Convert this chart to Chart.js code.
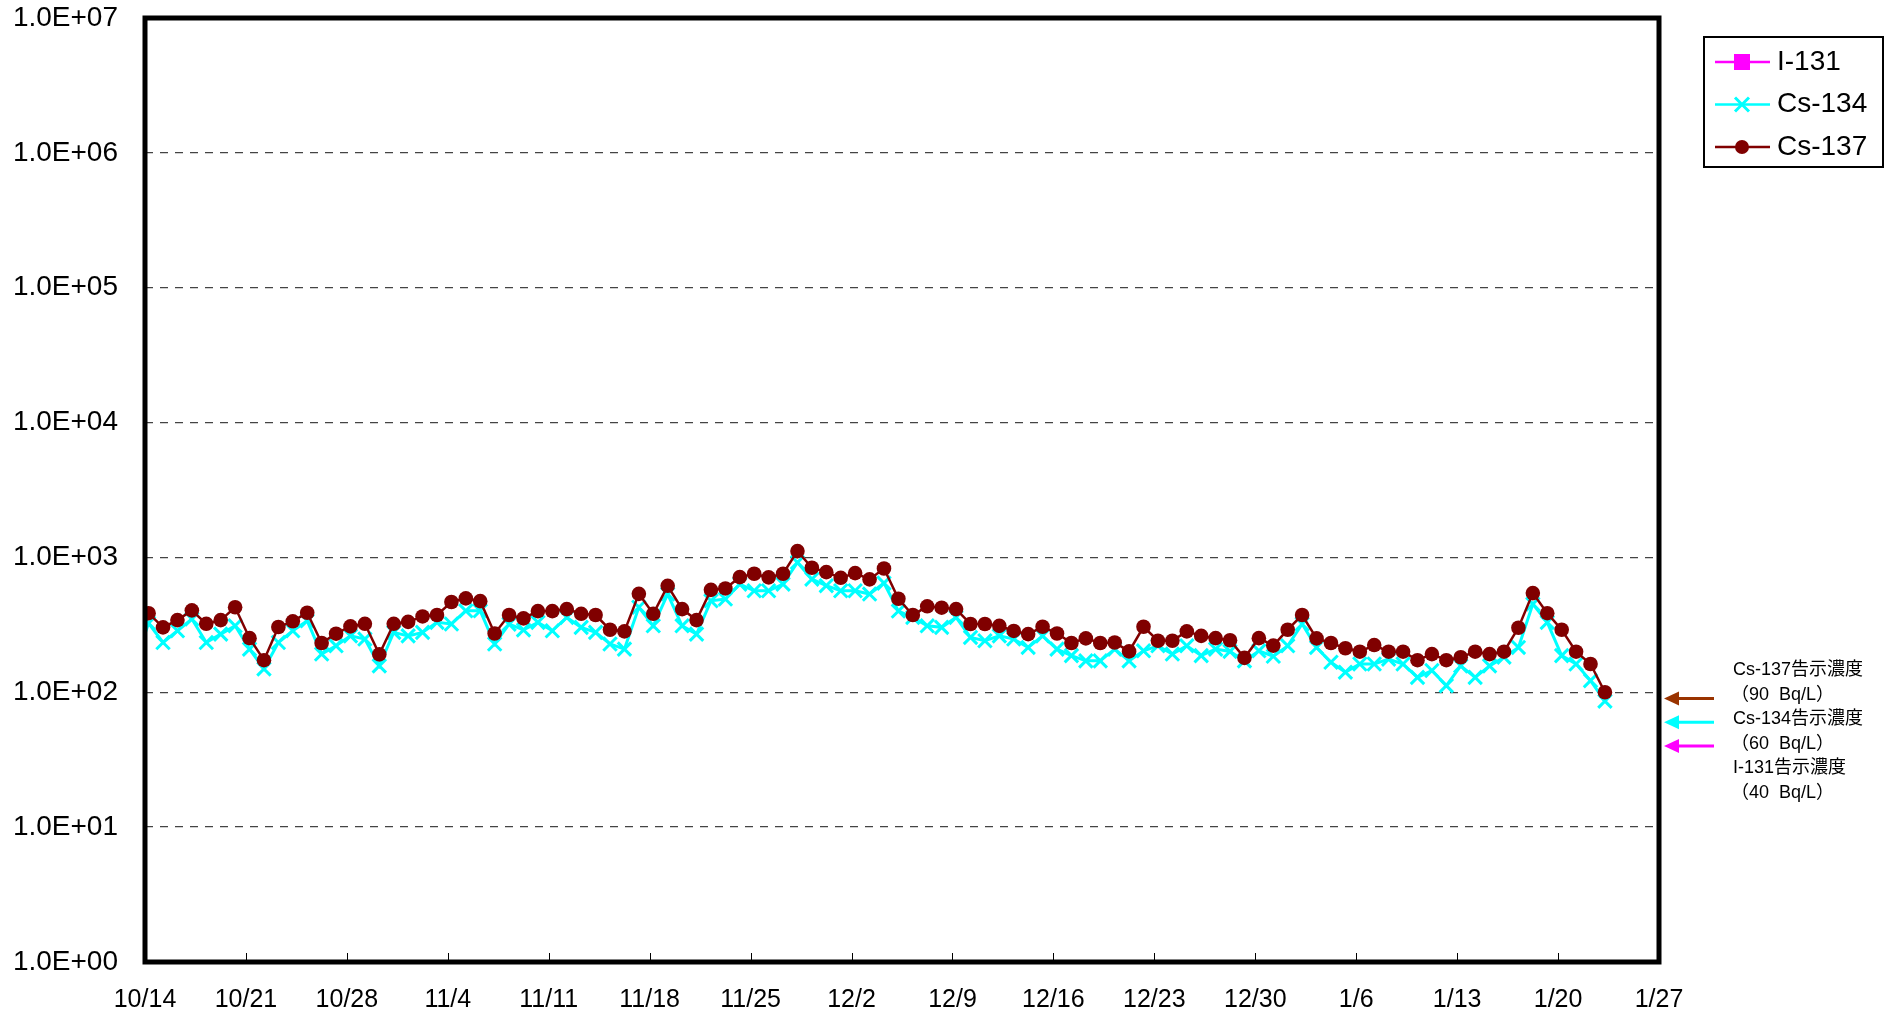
<!DOCTYPE html>
<html>
<head>
<meta charset="utf-8">
<script src="https://cdn.jsdelivr.net/npm/chart.js@4.4.0/dist/chart.umd.min.js"></script>
<style>
  body { margin: 0; background: #fff; }
  canvas { display: block; }
</style>
</head>
<body>
<canvas id="mycanvas" width="1895" height="1018"></canvas>
<script>
// sampling dates (10/13/2011 .. 1/23/2012), one per day
var dates = [
  '2011-10-13','2011-10-14','2011-10-15','2011-10-16','2011-10-17','2011-10-18','2011-10-19','2011-10-20','2011-10-21',
  '2011-10-22','2011-10-23','2011-10-24','2011-10-25','2011-10-26','2011-10-27','2011-10-28','2011-10-29','2011-10-30','2011-10-31',
  '2011-11-01','2011-11-02','2011-11-03','2011-11-04','2011-11-05','2011-11-06','2011-11-07','2011-11-08','2011-11-09','2011-11-10',
  '2011-11-11','2011-11-12','2011-11-13','2011-11-14','2011-11-15','2011-11-16','2011-11-17','2011-11-18','2011-11-19','2011-11-20',
  '2011-11-21','2011-11-22','2011-11-23','2011-11-24','2011-11-25','2011-11-26','2011-11-27','2011-11-28','2011-11-29','2011-11-30',
  '2011-12-01','2011-12-02','2011-12-03','2011-12-04','2011-12-05','2011-12-06','2011-12-07','2011-12-08','2011-12-09','2011-12-10',
  '2011-12-11','2011-12-12','2011-12-13','2011-12-14','2011-12-15','2011-12-16','2011-12-17','2011-12-18','2011-12-19','2011-12-20',
  '2011-12-21','2011-12-22','2011-12-23','2011-12-24','2011-12-25','2011-12-26','2011-12-27','2011-12-28','2011-12-29','2011-12-30',
  '2011-12-31','2012-01-01','2012-01-02','2012-01-03','2012-01-04','2012-01-05','2012-01-06','2012-01-07','2012-01-08','2012-01-09',
  '2012-01-10','2012-01-11','2012-01-12','2012-01-13','2012-01-14','2012-01-15','2012-01-16','2012-01-17','2012-01-18','2012-01-19',
  '2012-01-20','2012-01-21','2012-01-22','2012-01-23'
];

var cs137 = [
  190, 386, 303, 343, 405, 322, 343, 427, 252, 173,
  305, 336, 389, 232, 272, 308, 322, 191, 322, 333,
  365, 374, 467, 497, 474, 273, 374, 353, 400, 400,
  414, 382, 374, 291, 283, 537, 382, 616, 414, 343,
  575, 589, 714, 757, 711, 757, 1114, 838, 778, 706,
  765, 687, 828, 494, 374, 434, 424, 414, 321, 321,
  311, 285, 270, 306, 273, 232, 251, 232, 234, 201,
  306, 241, 241, 283, 262, 252, 243, 180, 252, 222,
  291, 374, 251, 232, 212, 200, 224, 200, 200, 173,
  192, 173, 182, 200, 192, 200, 301, 544, 386, 291,
  200, 162, 100
];

var cs134 = [
  160, 325, 234, 286, 349, 234, 270, 311, 209, 149,
  234, 286, 339, 192, 221, 262, 248, 157, 278, 262,
  278, 330, 321, 402, 402, 228, 320, 290, 330, 286,
  359, 303, 278, 228, 209, 427, 311, 535, 311, 270,
  477, 491, 634, 566, 566, 634, 918, 690, 617, 566,
  566, 535, 645, 400, 359, 311, 303, 359, 255, 241,
  262, 248, 215, 262, 209, 187, 171, 171, 209, 171,
  203, 221, 192, 221, 187, 209, 201, 171, 203, 185,
  221, 321, 215, 167, 141, 162, 162, 176, 162, 129,
  145, 112, 157, 129, 157, 182, 215, 451, 330, 187,
  162, 122, 86
];

// I-131 not detected in this period
var i131 = [];

var xTickLabels = ['10/14','10/21','10/28','11/4','11/11','11/18','11/25','12/2','12/9','12/16','12/23','12/30','1/6','1/13','1/20','1/27'];
var yTicks = [1, 10, 100, 1000, 10000, 100000, 1000000, 10000000];
var yTickLabels = ['1.0E+00','1.0E+01','1.0E+02','1.0E+03','1.0E+04','1.0E+05','1.0E+06','1.0E+07'];

// notice concentrations (Bq/L)
var noticeNames = ['Cs-137', 'Cs-134', 'I-131'];
var noticeValues = [90, 60, 40];
var noticeColors = ['#993300', '#00ffff', '#ff00ff'];

var start = new Date('2011-10-14T00:00:00Z').getTime();
function dayOf(s) {
  // samples are taken in the morning, about 6h after midnight
  return (new Date(s + 'T00:00:00Z').getTime() - start) / 86400000 + 0.25;
}
function pts(vals) {
  var out = [];
  for (var i = 0; i < vals.length; i++) out.push({ x: dayOf(dates[i]), y: vals[i] });
  return out;
}

var font = "'Liberation Sans', Arial, 'Noto Sans CJK JP', sans-serif";

/* frame, x tick marks, notice arrows and legend */
var decor = {
  id: 'decor',
  afterDraw: function(chart) {
    var ctx = chart.ctx, a = chart.chartArea;
    var xs = chart.scales.x, ys = chart.scales.y;
    ctx.save();
    ctx.setLineDash([]);

    // tick marks pointing into the plot
    ctx.strokeStyle = '#000';
    ctx.lineWidth = 1;
    for (var t = 1; t < xTickLabels.length - 1; t++) {
      var px = Math.round(xs.getPixelForValue(t * 7)) + 0.5;
      ctx.beginPath();
      ctx.moveTo(px, a.bottom);
      ctx.lineTo(px, a.bottom - 9);
      ctx.stroke();
    }

    // thick frame
    ctx.lineWidth = 5;
    ctx.strokeRect(a.left, a.top, a.right - a.left, a.bottom - a.top);

    // notice level arrows
    for (var i = 0; i < noticeValues.length; i++) {
      var y = ys.getPixelForValue(noticeValues[i]);
      var tip = a.right + 5;
      ctx.strokeStyle = noticeColors[i];
      ctx.fillStyle = noticeColors[i];
      ctx.lineWidth = 3;
      ctx.beginPath();
      ctx.moveTo(tip + 10, y);
      ctx.lineTo(tip + 50, y);
      ctx.stroke();
      ctx.beginPath();
      ctx.moveTo(tip, y);
      ctx.lineTo(tip + 15, y - 7);
      ctx.lineTo(tip + 15, y + 7);
      ctx.closePath();
      ctx.fill();
    }

    // notice texts
    var y90 = ys.getPixelForValue(noticeValues[0]);
    ctx.fillStyle = '#000';
    ctx.font = '18px ' + font;
    ctx.textBaseline = 'middle';
    ctx.textAlign = 'left';
    for (var j = 0; j < noticeNames.length; j++) {
      var ty = y90 - 28 + j * 49;
      ctx.fillText(noticeNames[j] + '告示濃度', a.right + 74, ty);
      ctx.fillText('（' + noticeValues[j] + '  Bq/L）', a.right + 72, ty + 25);
    }

    // legend box
    var lx = a.right + 45, ly = 37;
    ctx.strokeStyle = '#000';
    ctx.lineWidth = 2;
    ctx.strokeRect(lx, ly, 179, 130);
    var rows = [
      { name: 'I-131', color: '#ff00ff', style: 'square' },
      { name: 'Cs-134', color: '#00ffff', style: 'x' },
      { name: 'Cs-137', color: '#800000', style: 'circle' }
    ];
    ctx.font = '28px ' + font;
    for (var k = 0; k < rows.length; k++) {
      var ry = 62 + k * 42.5;
      var r = rows[k];
      ctx.strokeStyle = r.color;
      ctx.fillStyle = r.color;
      ctx.lineWidth = 2.5;
      ctx.beginPath();
      ctx.moveTo(lx + 11, ry);
      ctx.lineTo(lx + 66, ry);
      ctx.stroke();
      var cx = lx + 38;
      if (r.style === 'square') {
        ctx.fillRect(cx - 8, ry - 8, 16, 16);
      } else if (r.style === 'x') {
        ctx.lineWidth = 3;
        ctx.beginPath();
        ctx.moveTo(cx - 7, ry - 7); ctx.lineTo(cx + 7, ry + 7);
        ctx.moveTo(cx + 7, ry - 7); ctx.lineTo(cx - 7, ry + 7);
        ctx.stroke();
      } else {
        ctx.beginPath();
        ctx.arc(cx, ry, 7, 0, Math.PI * 2);
        ctx.fill();
      }
      ctx.fillStyle = '#000';
      ctx.fillText(r.name, lx + 73, ry);
    }
    ctx.restore();
  }
};

var ctx = document.getElementById('mycanvas');

var lineChart = new Chart(ctx, {
  type: 'line',
  data: {
    datasets: [
      {
        label: 'I-131',
        data: pts(i131),
        borderColor: '#ff00ff',
        backgroundColor: '#ff00ff',
        pointStyle: 'rect',
        pointRadius: 7,
        order: 2
      },
      {
        label: 'Cs-134',
        data: pts(cs134),
        borderColor: '#00ffff',
        backgroundColor: '#00ffff',
        borderWidth: 3,
        pointStyle: 'crossRot',
        pointRadius: 9.5,
        pointBorderWidth: 3,
        order: 1
      },
      {
        label: 'Cs-137',
        data: pts(cs137),
        borderColor: '#800000',
        backgroundColor: '#800000',
        borderWidth: 2.5,
        pointStyle: 'circle',
        pointRadius: 7.3,
        pointBorderWidth: 0,
        order: 0
      }
    ]
  },
  options: {
    responsive: false,
    animation: false,
    devicePixelRatio: 1,
    layout: { padding: { top: 18, right: 236, left: 0, bottom: 0 } },
    plugins: {
      legend: { display: false },
      tooltip: { enabled: false }
    },
    scales: {
      x: {
        type: 'linear',
        min: 0,
        max: 105,
        grid: { display: false, drawTicks: false },
        border: { display: false },
        afterBuildTicks: function(scale) {
          scale.ticks = xTickLabels.map(function(l, i) { return { value: i * 7 }; });
        },
        afterFit: function(scale) { scale.height = 56; },
        ticks: {
          autoSkip: false,
          maxRotation: 0,
          padding: 23,
          color: '#000',
          font: { size: 25, family: font },
          callback: function(v) { return xTickLabels[Math.round(v / 7)]; }
        }
      },
      y: {
        type: 'logarithmic',
        min: 1,
        max: 10000000,
        grid: {
          color: '#444',
          lineWidth: 1.3,
          drawTicks: true,
          tickLength: 27,
          tickColor: 'rgba(0,0,0,0)'
        },
        border: { display: false, dash: [8, 7] },
        afterBuildTicks: function(scale) {
          scale.ticks = yTicks.map(function(v) { return { value: v }; });
        },
        afterFit: function(scale) { scale.width = 145; },
        ticks: {
          padding: 0,
          color: '#000',
          font: { size: 28, family: font },
          callback: function(v) { return yTickLabels[yTicks.indexOf(v)]; }
        }
      }
    }
  },
  plugins: [decor]
});
</script>
</body>
</html>
